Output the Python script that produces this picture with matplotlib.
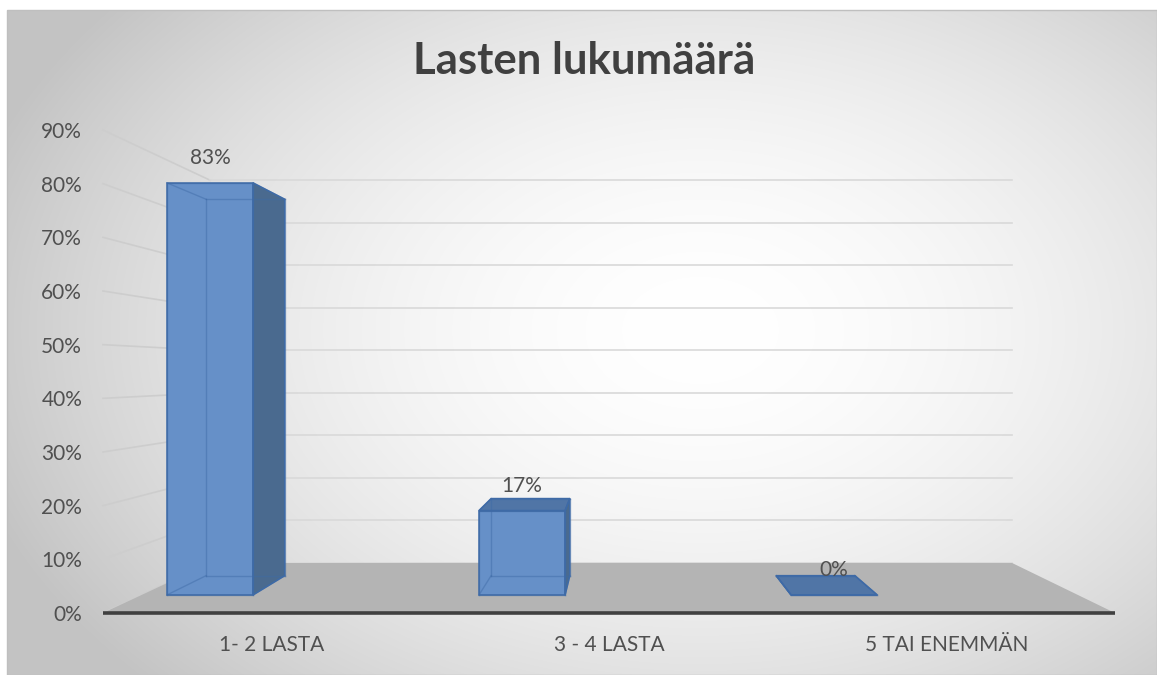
import matplotlib
matplotlib.use("Agg")
import matplotlib.pyplot as plt
import numpy as np
from matplotlib.patches import Polygon, Rectangle

plt.rcParams["font.family"] = ["Lato", "DejaVu Sans"]

TITLE = "Lasten lukumäärä"
CATEGORIES = ["1- 2 LASTA", "3 - 4 LASTA", "5 TAI ENEMMÄN"]
VALUES = [83, 17, 0]
Y_TICKS = list(range(0, 100, 10))

# fake 3D view (front plane = axes data coords)
VP_X, VP_Y = 1.03, 44.9
S_WALL = 0.7925
S_FRONT, S_BACK = 0.925, 0.845
BAR_SHIFT, BAR_WIDTH = -0.281, 0.276

FRONT_C = "#6690c8"
SIDE_C = "#4a6a8f"
TOP_C = "#5075a6"
EDGE_C = "#3e6aa6"
GRID_C = "#d9d9d9"
TEXT_C = "#505050"

W, H = 1157, 675


def proj(x, y, s):
    return VP_X + s * (x - VP_X), VP_Y + s * (y - VP_Y)


fig = plt.figure(figsize=(W / 100, H / 100), dpi=100)

# background
bg = fig.add_axes([0, 0, 1, 1])
bg.set_axis_off()
yy, xx = np.mgrid[0:H, 0:W]
d = np.sqrt(((xx - 700) / 760) ** 2 + ((yy - 330) / 520) ** 2)
t = np.clip(d, 0, 1) ** 1.8
val = (255 - (255 - 195) * t) / 255
img = np.dstack([val, val, val])
img[:10, :, :] = 1
img[:, :7, :] = 1
bg.imshow(img, extent=(0, 1, 0, 1), aspect="auto", interpolation="bilinear")
bg.set_xlim(0, 1)
bg.set_ylim(0, 1)
bg.add_patch(Rectangle((7 / W, 0), 1 - 7 / W, 1 - 10 / H, fill=False,
                       edgecolor="#bfbfbf", lw=1))

ax = fig.add_axes([103 / W, (H - 613) / H, 1012 / W, (613 - 130) / H])
ax.patch.set_visible(False)
ax.set_xlim(-0.5, 2.5)
ax.set_ylim(0, 90)
for sp in ax.spines.values():
    sp.set_visible(False)

# walls
x_left, x_right = ax.get_xlim()
for v in Y_TICKS:
    bl = proj(x_left, v, S_WALL)
    br = proj(x_right, v, S_WALL)
    ax.plot([x_left, bl[0]], [v, bl[1]], color="#cdcdcd", lw=1.2, zorder=1, clip_on=False)
    ax.plot([bl[0], br[0]], [bl[1], br[1]], color=GRID_C, lw=1.2, zorder=1, clip_on=False)

floor = [(x_left, 0), (x_right, 0), proj(x_right, 0, S_WALL), proj(x_left, 0, S_WALL)]
ax.add_patch(Polygon(floor, closed=True, facecolor="#b4b4b4", edgecolor="none",
                     zorder=2, clip_on=False))

# bars
for i, v in enumerate(VALUES):
    x0 = i + BAR_SHIFT - BAR_WIDTH / 2
    x1 = x0 + BAR_WIDTH
    f = [proj(x0, 0, S_FRONT), proj(x1, 0, S_FRONT), proj(x1, v, S_FRONT), proj(x0, v, S_FRONT)]
    b = [proj(x0, 0, S_BACK), proj(x1, 0, S_BACK), proj(x1, v, S_BACK), proj(x0, v, S_BACK)]

    faces = []
    if x1 < VP_X:
        faces.append(([f[1], b[1], b[2], f[2]], SIDE_C))
    if x0 > VP_X:
        faces.append(([f[0], b[0], b[3], f[3]], SIDE_C))
    if v < VP_Y:
        faces.append(([f[3], f[2], b[2], b[3]], TOP_C))
    faces.append((f, FRONT_C))

    for pts, c in faces:
        ax.add_patch(Polygon(pts, closed=True, facecolor=c, edgecolor="none",
                             zorder=3, clip_on=False))

    edges = [(f[k], f[(k + 1) % 4]) for k in range(4)]
    edges += [(b[k], b[(k + 1) % 4]) for k in range(4)]
    edges += [(f[k], b[k]) for k in range(4)]
    for p, q in edges:
        ax.plot([p[0], q[0]], [p[1], q[1]], color=EDGE_C, lw=1, alpha=0.45,
                zorder=4, clip_on=False)
    for pts, c in faces:
        ax.add_patch(Polygon(pts, closed=True, facecolor="none", edgecolor=EDGE_C,
                             lw=1.1, zorder=4, clip_on=False))

    ax.annotate(f"{v}%", xy=proj((x0 + x1) / 2, v, S_FRONT), xytext=(0, 18),
                textcoords="offset points", ha="center", va="center",
                fontsize=15, color=TEXT_C, zorder=6, annotation_clip=False)

ax.plot([x_left, x_right], [0, 0], color="#404040", lw=2.6, solid_capstyle="butt",
        zorder=5, clip_on=False)

ax.set_yticks(Y_TICKS)
ax.set_yticklabels([f"{v}%" for v in Y_TICKS])
ax.set_xticks(range(len(CATEGORIES)))
ax.set_xticklabels(CATEGORIES)
ax.tick_params(axis="y", length=0, pad=15, labelsize=15, labelcolor=TEXT_C)
ax.tick_params(axis="x", length=0, pad=16, labelsize=15, labelcolor=TEXT_C)

fig.text(584 / W, 1 - 61 / H, TITLE, ha="center", va="center", fontsize=31.5,
         fontweight="bold", color="#404040")

fig.savefig("out.png", dpi=100)
